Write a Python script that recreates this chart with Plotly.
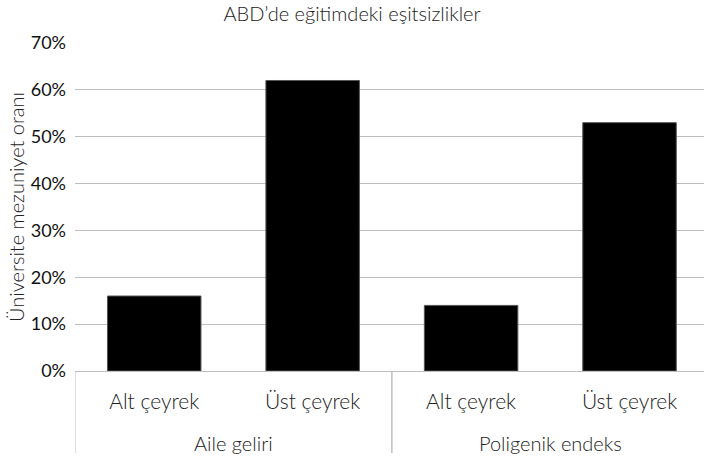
import plotly.graph_objects as go

groups = ["Aile geliri", "Aile geliri", "Poligenik endeks", "Poligenik endeks"]
quartiles = ["Alt çeyrek", "Üst çeyrek", "Alt çeyrek", "Üst çeyrek"]
values = [0.16, 0.62, 0.14, 0.53]

title = "ABD’de eğitimdeki eşitsizlikler"
y_title = "Üniversite mezuniyet oranı"
y_ticks = [0, 0.1, 0.2, 0.3, 0.4, 0.5, 0.6, 0.7]

light = "Lato, Roboto, sans-serif"
txt = "#222222"

positions = list(range(len(values)))

fig = go.Figure(go.Bar(
    x=positions,
    y=values,
    marker=dict(color="black", line=dict(color="#555555", width=1)),
))

# group labels and dividers
group_names = []
for g in groups:
    if g not in group_names:
        group_names.append(g)
for g in group_names:
    idx = [i for i, gg in enumerate(groups) if gg == g]
    fig.add_annotation(x=sum(idx) / len(idx), y=-0.22, xref="x", yref="paper",
                       text=g, showarrow=False, yanchor="middle",
                       font=dict(family=light, size=20, color=txt, weight=300))
    fig.add_shape(type="line", x0=min(idx) - 0.5, x1=min(idx) - 0.5, xref="x",
                  y0=0, y1=-0.25, yref="paper", line=dict(color="#bfbfbf", width=1))
    fig.add_shape(type="line", x0=max(idx) + 0.5, x1=max(idx) + 0.5, xref="x",
                  y0=0, y1=-0.25, yref="paper", line=dict(color="#bfbfbf", width=1))

fig.update_layout(
    width=704, height=463,
    margin=dict(l=75, r=0, t=43, b=92),
    paper_bgcolor="white", plot_bgcolor="white",
    font=dict(family=light, size=20, color=txt),
    title=dict(text=title, x=0.5, xanchor="center", y=0.985, yanchor="top",
               font=dict(family=light, size=20, color=txt, weight=300)),
    bargap=0.41,
    showlegend=False,
)
fig.update_xaxes(
    tickvals=positions, ticktext=quartiles,
    tickfont=dict(family=light, size=21, color=txt, weight=300),
    ticklabelstandoff=12,
    showline=True, linecolor="#bfbfbf", linewidth=1,
    ticks="", showgrid=False, zeroline=False,
    range=[-0.5, 3.47], automargin=False,
)
fig.update_yaxes(
    range=[0, 0.7], tickvals=y_ticks, tickformat=".0%",
    tickfont=dict(family="Lato, Roboto, sans-serif", size=18, color="#111111"),
    showgrid=True, gridcolor="#bfbfbf", gridwidth=1,
    zeroline=False, showline=False, ticks="",
    ticklabelstandoff=8, automargin=False,
    title=dict(text=y_title, standoff=0,
               font=dict(family=light, size=20, color=txt, weight=300)),
)

fig.write_html(
    "out.html",
    config={"displayModeBar": False},
    post_script="document.body.style.margin='0';document.body.style.overflow='hidden';",
)
